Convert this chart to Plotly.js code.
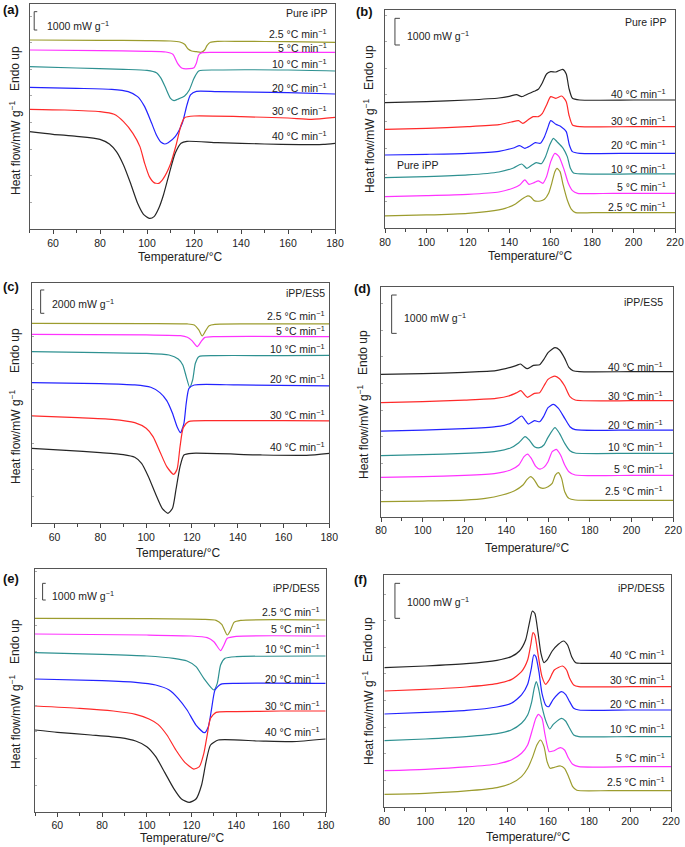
<!DOCTYPE html>
<html><head><meta charset="utf-8">
<script src="https://cdn.plot.ly/plotly-3.0.1.min.js"></script>
<style>html,body{margin:0;padding:0;background:#fff}#chart{width:685px;height:847px}</style>
</head><body><div id="chart"></div>
<script>
// Heating/cooling rates and colours
const rates = ['2.5','5','10','20','30','40'];
const rateColors = ['#9c9c2e','#ff33ff','#2e9191','#2323ff','#ff2a2a','#262626'];

// ---- (a) Pure iPP, cooling (heat flow, arbitrary offset units) ----
const aT25=[50,80,100,110,114,116,117.5,119,121,123,124.5,125.5,127,130,140,160,180];
const aH25=[568,567,566,565,562,555,541,535,533,531,538,551,561,564,564,563,561];
const aT5=[50,80,100,108,111,113,115,118,120,121,122,123.5,130,150,180];
const aH5=[538,536,534,532,525,498,483,482,485,498,523,530,531,531,531];
const aT10=[50,70,90,100,104,106,108,110,111.5,113,116,118,120,122,130,160,180];
const aH10=[488,484,480,477,470,453,423,393,386,390,400,418,453,475,478,478,475];
const aT20=[50,70,85,92,96,99,102,104,106,107.5,109,112,115,117,118.5,121,130,160,180];
const aH20=[426,423,420,413,398,368,318,283,261,256,260,278,318,373,403,414,413,410,406];
const aT30=[50,65,80,86,90,94,97,99,101,103,105,107,110,112.5,114.5,116,120,140,160,170,180];
const aH30=[360,358,353,345,323,288,248,198,158,140,138,153,196,256,313,335,340,338,334,330,336];
const aT40=[50,60,70,80,84,87,90,93,96,98.5,101,103,105,107,109.5,112,114.5,117,130,150,165,175,180];
const aH40=[293,285,279,270,256,233,193,138,78,45,33,38,63,103,168,228,258,264,260,256,254,255,258];

// ---- (b) Pure iPP, heating ----
const bT25=[80,100,120,130,138,143,146,149,150.5,152,155,157,159,160.5,162,163,164.5,166,168,170,172,180,200,220];
const bH25=[37,40,45,51,60,73,87,97,93,83,82,87,105,135,170,180,170,130,85,57,47,47,47,47];
const bT5=[80,100,120,135,142,145,147.5,149.5,152,154,156.2,158,160,162,164,166.5,168.5,170.5,173,190,220];
const bH5=[95,98,102,109,121,130,145,132,137,142,135,155,200,225,215,175,135,113,105,105,105];
const bT10=[80,100,120,135,142,146,148.5,151,153,155.5,157.5,159.5,161.3,163,166,168,169.5,171,175,200,220];
const bH10=[152,155,160,169,181,193,180,190,197,194,215,250,270,260,240,215,180,166,163,163,163];
const bT20=[80,100,120,135,142,145,147.5,150,152.5,155,157,158.5,160,162.5,165,167.5,169,170.5,174,200,220];
const bH20=[220,222,225,231,241,248,240,247,257,255,275,300,323,312,305,290,250,230,225,225,225];
const bT30=[80,100,120,135,141,144.5,146.5,149,151.5,154,156,158,160,162.5,165.3,167.5,168.8,170.5,174,200,220];
const bH30=[297,300,305,311,319,323,315,325,335,335,345,370,395,390,397,380,340,310,305,305,305];
const bT40=[80,100,120,135,140,143.5,146,149,152,154,156,158,160,162.5,165.8,167.5,168.8,170.5,174,200,220];
const bH40=[377,380,385,391,396,401,395,403,411,417,437,463,470,469,477,463,420,390,385,385,385];

// ---- (c) iPP/ES5, cooling ----
const cT25=[50,100,118,121,123,124.5,126,127.5,130,150,180];
const cH25=[600,599,598,595,580,562,578,593,597,598,598];
const cT5=[50,100,115,118,120,122.3,124,125.5,130,180];
const cH5=[567,565,563,558,548,530,545,557,560,560];
const cT10=[50,80,100,110,114,116,117.5,119,120.3,121.5,123,130,160,180];
const cH10=[515,512,510,505,493,475,440,408,430,480,500,503,503,504];
const cT20=[50,80,95,102,106,109,111.5,113.5,115,116.5,117.5,118.7,121,140,180];
const cH20=[422,419,415,408,392,368,330,290,272,300,360,405,415,415,412];
const cT30=[50,70,85,95,100,103,106,109,112,113.5,114.8,116.2,118.5,130,160,180];
const cH30=[322,317,312,302,285,260,215,170,147,162,230,287,305,308,308,307];
const cT40=[50,65,80,90,95,98,101,104,107,109.5,111.5,113,114.8,116.5,120,150,170,180];
const cH40=[225,219,212,206,198,180,140,90,45,30,45,100,170,205,210,205,204,210];

// ---- (d) iPP/ES5, heating ----
const dT25=[80,100,120,130,138,144,148,150,151.7,153.5,155.5,157.5,160,162,163.5,165,166.5,168,170,173,200,220];
const dH25=[45,47,50,55,65,78,95,112,120,110,90,85,90,100,125,132,115,75,55,50,49,49];
const dT5=[80,100,120,135,142,146,148.5,150.2,152,154,156,158,160,162,164,166,168,170,173,200,220];
const dH5=[118,120,124,130,140,155,180,188,175,152,143,148,165,195,202,185,155,135,125,124,124];
const dT10=[80,100,120,135,142,146,149,151,153.5,156,158,160,163.3,165.5,168,170.5,173,200,220];
const dH10=[183,186,190,196,206,222,240,230,210,207,215,238,267,250,220,198,191,190,190];
const dT20=[80,100,120,135,142,145,147.4,149,150.6,153.5,156,158,160,162.5,165,168,170.5,173,200,220];
const dH20=[257,260,264,270,280,292,302,290,278,288,285,302,327,337,325,295,270,261,260,260];
const dT30=[80,100,120,135,142,145,147,148.5,150.2,153.5,156,158,160,163.3,165.5,168,170.5,173,200,220];
const dH30=[342,345,350,355,364,372,378,368,358,370,372,392,412,422,414,392,360,350,348,348];
const dT40=[80,100,120,135,142,145,146.8,148.5,150,153,156,158,160,163.3,165.5,168,170,172,175,200,220];
const dH40=[427,429,433,438,448,454,458,450,444,454,456,472,492,507,500,475,448,438,435,435,435];

// ---- (e) iPP/DES5, cooling ----
const eT25=[50,100,125,131,133.5,136,137.5,139,142,180];
const eH25=[580,579,577,574,562,530,545,568,574,575];
const eT5=[50,100,120,127,130,133,134.5,136,140,180];
const eH5=[533,530,527,522,510,483,500,520,526,527];
const eT10=[50,80,100,112,118,122,125.5,130,131.5,133,135,140,180];
const eH10=[477,472,467,460,452,435,400,365,385,440,460,465,467];
const eT20=[50,80,95,104,110,114,118,122,125.8,127.5,129,130.5,133,140,180];
const eH20=[398,393,388,380,365,340,305,260,237,255,310,365,382,385,385];
const eT30=[50,70,85,95,101,105,109,113,117,121,123.5,125.5,127,128.5,131,140,160,180];
const eH30=[317,310,302,292,278,262,230,185,148,128,135,175,230,280,298,300,302,302];
const eT40=[50,60,75,88,95,100,104,108,112,115.5,119,122,124.5,126.5,128.5,132,150,165,180];
const eH40=[245,238,230,222,212,195,165,118,70,38,28,38,80,150,200,215,212,210,218];

// ---- (f) iPP/DES5, heating ----
const fT25=[80,100,120,135,142,147,150,152.5,154.5,156.3,158,159.5,161,163,166,168,170,172,174,190,220];
const fH25=[39,42,49,59,72,92,117,152,187,202,182,137,117,120,124,117,92,62,51,50,50];
const fT5=[80,100,120,135,142,147,150,152.5,154,155.3,157,158.5,160.5,162.5,166,168,170,172,175,200,220];
const fH5=[110,114,121,130,142,162,187,237,267,279,267,217,167,169,179,172,147,129,122,122,122];
const fT10=[80,100,120,135,142,147,150,152,153.2,154.2,155.3,157,159,160.8,162.5,166.5,168.5,170.5,172.5,175,200,220];
const fH10=[200,205,212,221,232,252,277,317,357,377,357,302,257,235,249,267,259,237,217,212,212,212];
const fT20=[80,100,120,135,142,147,150,151.8,153,154,155.5,157,159,160.3,162.5,166.5,168.5,170.5,172.5,175,200,220];
const fH20=[280,285,291,301,312,337,369,417,457,452,407,342,305,302,324,347,339,317,297,292,292,292];
const fT30=[80,100,120,135,142,147,150,151.5,152.6,153.5,155,157,158.8,160.5,163,167,169,170.5,172.5,175,200,220];
const fH30=[349,354,361,371,383,407,442,487,524,517,462,392,369,382,412,424,412,387,367,362,362,362];
const fT40=[80,100,120,135,142,146,149,150.8,152.3,153.5,155,156.5,158,159.5,162,165,167.5,169.5,171.5,173.5,176,200,220];
const fH40=[419,424,431,441,452,469,502,552,589,582,527,462,434,442,469,489,499,487,452,434,432,432,432];

const sampleNames = ['Pure iPP','Pure iPP','iPP/ES5','iPP/ES5','iPP/DES5','iPP/DES5'];
const scaleBarLabels = ['1000 mW g<sup>−1</sup>','1000 mW g<sup>−1</sup>','2000 mW g<sup>−1</sup>','1000 mW g<sup>−1</sup>','1000 mW g<sup>−1</sup>','1000 mW g<sup>−1</sup>'];

// ---- layout geometry (pixels of the 685x847 page) ----
const W=685, H=847;
const panels = [
 {id:'a', T:[aT25,aT5,aT10,aT20,aT30,aT40], Hf:[aH25,aH5,aH10,aH20,aH30,aH40],
  px:[29.5,335], py:[4,229.3], xr:[50,180], yr:[0,676], tick0:60,
  labX:177.5, titleY:648, labY:[588,545,496,426,355,280],
  sb:{x0:52,x1:53.3,y0:598,y1:653,lx:56.7,ly:613},
  xt:[180,257], ht:[15,148], en:[15,69], pl:[1,9]},
 {id:'b', T:[bT25,bT5,bT10,bT20,bT30,bT40], Hf:[bH25,bH5,bH10,bH20,bH30,bH40],
  px:[385,675], py:[10,228.3], xr:[80,220], yr:[0,655], tick0:80,
  labX:216.8, titleY:620, labY:[65,125,180,250,323,403],
  sb:{x0:84.8,x1:87.2,y0:550,y1:630,lx:89.7,ly:580},
  xt:[530,256], ht:[369,146], en:[369,68], pl:[354,11], inner:{x:84.8,y:190,t:'Pure iPP'}},
 {id:'c', T:[cT25,cT5,cT10,cT20,cT30,cT40], Hf:[cH25,cH5,cH10,cH20,cH30,cH40],
  px:[31.7,329.3], py:[283.3,523.3], xr:[50,180], yr:[0,720], tick0:60,
  labX:179, titleY:690, labY:[622,578,525,434,325,230],
  sb:{x0:53.9,x1:55.5,y0:630,y1:700,lx:58,ly:660},
  xt:[178,553], ht:[15,437], en:[15,351], pl:[1,286]},
 {id:'d', T:[dT25,dT5,dT10,dT20,dT30,dT40], Hf:[dH25,dH5,dH10,dH20,dH30,dH40],
  px:[381,673.3], py:[286.7,516.7], xr:[80,220], yr:[0,690], tick0:80,
  labX:216, titleY:645, labY:[80,145,210,278,365,450],
  sb:{x0:85.1,x1:87.5,y0:550,y1:665,lx:89.9,ly:598},
  xt:[527,548], ht:[363,432], en:[363,353], pl:[352,288]},
 {id:'e', T:[eT25,eT5,eT10,eT20,eT30,eT40], Hf:[eH25,eH5,eH10,eH20,eH30,eH40],
  px:[35,325.7], py:[569,811.7], xr:[50,180], yr:[0,728], tick0:60,
  labX:178.2, titleY:672, labY:[600,550,490,400,320,240],
  sb:{x0:53.4,x1:54.8,y0:635,y1:685,lx:56.7,ly:650},
  xt:[182,838], ht:[15,722], en:[15,642], pl:[1,578]},
 {id:'f', T:[fT25,fT5,fT10,fT20,fT30,fT40], Hf:[fH25,fH5,fH10,fH20,fH30,fH40],
  px:[384.3,671], py:[575,807.3], xr:[80,220], yr:[0,697], tick0:80,
  labX:217.9, titleY:657, labY:[77,149,235,312,382,457],
  sb:{x0:85.2,x1:87.7,y0:567,y1:672,lx:90.1,ly:617},
  xt:[528,837], ht:[368,718], en:[368,640], pl:[352,579]}
];

const FONT = 'Liberation Sans, Arial, Helvetica, sans-serif';
const traces=[]; const annotations=[]; const shapes=[];
const layout = {width:W, height:H, margin:{l:0,r:0,t:0,b:0}, paper_bgcolor:'#fff', plot_bgcolor:'#fff',
  showlegend:false, font:{family:FONT, size:10, color:'#222'}};

panels.forEach((p,i)=>{
  const n = i===0?'':String(i+1);
  const xa='x'+n, ya='y'+n;
  layout['xaxis'+n] = {domain:[p.px[0]/W, p.px[1]/W], anchor:ya, range:p.xr, tick0:p.tick0, dtick:20,
    ticks:'outside', ticklen:4, tickwidth:1, tickcolor:'#444', showline:true, mirror:true, linecolor:'#555', linewidth:1,
    showgrid:false, zeroline:false, tickfont:{family:FONT,size:10.5,color:'#222'},
    minor:{dtick:10, tick0:p.xr[0], ticks:'outside', ticklen:3, tickcolor:'#444'}};
  layout['yaxis'+n] = {domain:[1-p.py[1]/H, 1-p.py[0]/H], anchor:xa, range:p.yr, showticklabels:false,
    ticks:'inside', ticklen:2, tickcolor:'#aaa', dtick:80, tick0:0, showline:true, mirror:true, linecolor:'#555', linewidth:1,
    showgrid:false, zeroline:false};
  for(let k=0;k<6;k++){
    traces.push({type:'scatter', mode:'lines', x:p.T[k], y:p.Hf[k], xaxis:xa, yaxis:ya,
      line:{color:rateColors[k], width:1.2, shape:'spline', smoothing:0.6}, name:rates[k]+' °C/min'});
    annotations.push({xref:xa, yref:ya, x:p.labX, y:p.labY[k], xanchor:'right', yanchor:'middle',
      text:rates[k]+' °C min<sup>−1</sup>', showarrow:false, font:{family:FONT,size:10.5,color:'#222'}});
  }
  annotations.push({xref:xa, yref:ya, x:p.labX, y:p.titleY, xanchor:'right', yanchor:'middle',
    text:sampleNames[i], showarrow:false, font:{family:FONT,size:10.5,color:'#222'}});
  if(p.inner){
    annotations.push({xref:xa, yref:ya, x:p.inner.x, y:p.inner.y, xanchor:'left', yanchor:'middle',
      text:p.inner.t, showarrow:false, font:{family:FONT,size:10.5,color:'#222'}});
  }
  // scale bar
  shapes.push({type:'path', xref:xa, yref:ya,
    path:`M ${p.sb.x1},${p.sb.y1} L ${p.sb.x0},${p.sb.y1} L ${p.sb.x0},${p.sb.y0} L ${p.sb.x1},${p.sb.y0}`,
    line:{color:'#444', width:1}});
  annotations.push({xref:xa, yref:ya, x:p.sb.lx, y:p.sb.ly, xanchor:'left', yanchor:'middle',
    text:scaleBarLabels[i], showarrow:false, font:{family:FONT,size:10.5,color:'#222'}});
  // axis titles
  annotations.push({xref:'paper', yref:'paper', x:p.xt[0]/W, y:1-p.xt[1]/H, xanchor:'center', yanchor:'middle',
    text:'Temperature/°C', showarrow:false, font:{family:FONT,size:12,color:'#222'}});
  annotations.push({xref:'paper', yref:'paper', x:p.ht[0]/W, y:1-p.ht[1]/H, xanchor:'center', yanchor:'middle',
    text:'Heat flow/mW g<sup>−1</sup>', textangle:-90, showarrow:false, font:{family:FONT,size:12,color:'#222'}});
  annotations.push({xref:'paper', yref:'paper', x:p.en[0]/W, y:1-p.en[1]/H, xanchor:'center', yanchor:'middle',
    text:'Endo up', textangle:-90, showarrow:false, font:{family:FONT,size:12,color:'#222'}});
  annotations.push({xref:'paper', yref:'paper', x:p.pl[0]/W, y:1-p.pl[1]/H, xanchor:'left', yanchor:'middle',
    text:'<b>('+p.id+')</b>', showarrow:false, font:{family:FONT,size:13,color:'#111'}});
});
layout.annotations = annotations;
layout.shapes = shapes;
Plotly.newPlot('chart', traces, layout, {displayModeBar:false, staticPlot:true});
</script></body></html>
